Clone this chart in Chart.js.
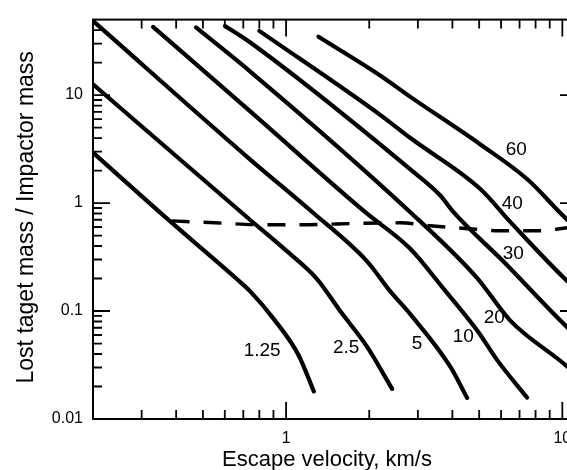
<!DOCTYPE html>
<html>
<head>
<meta charset="utf-8">
<script src="https://cdn.jsdelivr.net/npm/chart.js@4.4.0/dist/chart.umd.min.js"></script>
<style>
  html, body { margin: 0; padding: 0; overflow: hidden; background: #fff; }
  #wrap { width: 600px; height: 470px; }
</style>
</head>
<body>
<div id="wrap"><canvas id="chart"></canvas></div>
<script>
// Lost target mass / impactor mass against escape velocity, one curve per impact speed (km/s)
const speedLabels = ["1.25", "2.5", "5", "10", "20", "30", "40", "60"];

const v125x = [0.2, 0.37, 0.66, 0.74, 0.9, 1.11, 1.26];
const v125y = [2.93, 0.72, 0.20, 0.153, 0.085, 0.039, 0.018];

const v25x = [0.2, 0.74, 0.98, 1.29, 1.57, 1.96, 2.42];
const v25y = [12.6, 0.70, 0.38, 0.20, 0.10, 0.047, 0.019];

const v5x = [0.2, 0.74, 1.24, 1.96, 2.38, 2.81, 3.93, 4.52];
const v5y = [48.6, 2.54, 0.83, 0.29, 0.153, 0.094, 0.0305, 0.0157];

const v10x = [0.33, 0.74, 1.93, 2.81, 3.70, 4.92, 5.81, 7.45];
const v10y = [42.8, 7.1, 0.827, 0.379, 0.163, 0.066, 0.0351, 0.0158];

const v20x = [0.472, 0.74, 2.81, 4.91, 6.48, 10.43, 10.8];
const v20y = [42.3, 16.6, 0.827, 0.203, 0.0815, 0.0305, 0.028];

const v30x = [0.601, 0.74, 2.81, 3.61, 4.03, 6.11, 10.43, 10.8];
const v30y = [43.7, 30.8, 2.06, 1.18, 0.827, 0.2885, 0.0704, 0.065];

const v40x = [0.80, 2.19, 2.81, 5.05, 6.48, 10.43, 10.8];
const v40y = [39.3, 6.56, 4.02, 1.35, 0.670, 0.189, 0.175];

const v60x = [1.31, 2.19, 2.81, 5.05, 7.47, 10.43, 10.8];
const v60y = [34.7, 15.2, 9.67, 3.49, 1.66, 0.699, 0.65];

// dashed boundary line
const dashX = [0.385, 0.553, 0.839, 1.124, 1.854, 2.588, 3.325, 4.45, 5.96, 8.32, 10.43, 10.8];
const dashY = [0.684, 0.656, 0.629, 0.629, 0.649, 0.656, 0.616, 0.582, 0.554, 0.554, 0.590, 0.595];

// where each speed label sits (data coordinates)
const labelX = [0.819, 1.65, 2.98, 4.38, 5.67, 6.64, 6.59, 6.81];
const labelY = [0.0433, 0.0452, 0.0502, 0.0582, 0.0868, 0.342, 0.979, 3.12];

const xLabelTicks = [1, 10];
const yLabelTicks = [0.01, 0.1, 1, 10];
const xTitle = "Escape velocity, km/s";
const yTitle = "Lost taget mass / Impactor mass";

const fontFamily = '"Liberation Sans", Arial, sans-serif';

function toPoints(xs, ys) {
  return xs.map((x, i) => ({ x: x, y: ys[i] }));
}

// 1..9 per decade, for the small tick marks
function decadeTicks(min, max) {
  const out = [];
  for (let p = -3; p <= 3; p++) {
    for (let m = 1; m <= 9; m++) {
      const v = Number((m * Math.pow(10, p)).toPrecision(3));
      if (v > min && v < max) out.push({ value: v, major: m === 1 });
    }
  }
  return out;
}

const curveX = [v125x, v25x, v5x, v10x, v20x, v30x, v40x, v60x];
const curveY = [v125y, v25y, v5y, v10y, v20y, v30y, v40y, v60y];

const datasets = curveX.map((xs, i) => ({
  label: speedLabels[i],
  data: toPoints(xs, curveY[i]),
  showLine: true,
  borderColor: "#000",
  borderWidth: 4.2,
  borderCapStyle: "round",
  borderJoinStyle: "round",
  pointRadius: 0,
  cubicInterpolationMode: "monotone",
}));

datasets.push({
  label: "boundary",
  data: toPoints(dashX, dashY),
  showLine: true,
  borderColor: "#000",
  borderWidth: 3.4,
  borderDash: [18, 14],
  pointRadius: 0,
  cubicInterpolationMode: "monotone",
});

const framePlugin = {
  id: "frame",
  afterDraw(chart) {
    const ctx = chart.ctx;
    const a = chart.chartArea;
    const xs = chart.scales.x;
    const ys = chart.scales.y;
    ctx.save();
    ctx.strokeStyle = "#000";
    ctx.lineWidth = 2;
    ctx.strokeRect(a.left, a.top, a.right - a.left, a.bottom - a.top);

    ctx.lineWidth = 1.8;
    decadeTicks(xs.min, xs.max).forEach((t) => {
      const px = xs.getPixelForValue(t.value);
      const len = t.major ? 17 : 9;
      ctx.beginPath();
      ctx.moveTo(px, a.bottom);
      ctx.lineTo(px, a.bottom - len);
      ctx.moveTo(px, a.top);
      ctx.lineTo(px, a.top + len);
      ctx.stroke();
    });
    decadeTicks(ys.min * 0.99, ys.max).forEach((t) => {
      const py = ys.getPixelForValue(t.value);
      const len = t.major ? 17 : 9;
      ctx.beginPath();
      ctx.moveTo(a.left, py);
      ctx.lineTo(a.left + len, py);
      ctx.moveTo(a.right, py);
      ctx.lineTo(a.right - len, py);
      ctx.stroke();
    });

    // speed labels
    ctx.fillStyle = "#000";
    ctx.font = "19px " + fontFamily;
    ctx.textAlign = "center";
    ctx.textBaseline = "middle";
    speedLabels.forEach((s, i) => {
      ctx.fillText(s, xs.getPixelForValue(labelX[i]), ys.getPixelForValue(labelY[i]));
    });

    // axis titles
    ctx.font = "22px " + fontFamily;
    ctx.textBaseline = "alphabetic";
    ctx.fillText(xTitle, (a.left + a.right) / 2 - 8, 466);
    ctx.font = "23px " + fontFamily;
    ctx.translate(33, (a.top + a.bottom) / 2 - 2);
    ctx.rotate(-Math.PI / 2);
    ctx.fillText(yTitle, 0, 0);
    ctx.restore();
  },
};

const ctx = document.getElementById("chart").getContext("2d");
new Chart(ctx, {
  type: "scatter",
  data: { datasets: datasets },
  options: {
    responsive: true,
    maintainAspectRatio: false,
    animation: false,
    layout: { padding: { top: 15, right: 23, left: 0, bottom: 0 } },
    plugins: { legend: { display: false }, tooltip: { enabled: false } },
    scales: {
      x: {
        type: "logarithmic",
        min: 0.2,
        max: 11.3,
        grid: { display: false, drawTicks: false },
        border: { display: false },
        afterBuildTicks: (s) => {
          s.ticks = xLabelTicks.map((v) => ({ value: v }));
        },
        afterFit: (s) => {
          s.height = 51;
        },
        ticks: {
          padding: 10,
          color: "#000",
          autoSkip: false,
          maxRotation: 0,
          font: { size: 16, family: fontFamily },
          callback: (v) => String(v),
        },
      },
      y: {
        type: "logarithmic",
        min: 0.01,
        max: 50,
        grid: { display: false, drawTicks: false },
        border: { display: false },
        afterBuildTicks: (s) => {
          s.ticks = yLabelTicks.map((v) => ({ value: v }));
        },
        afterFit: (s) => {
          s.width = 93;
        },
        ticks: {
          padding: 10,
          color: "#000",
          autoSkip: false,
          font: { size: 16, family: fontFamily },
          callback: (v) => String(v),
        },
      },
    },
  },
  plugins: [framePlugin],
});
</script>
</body>
</html>
